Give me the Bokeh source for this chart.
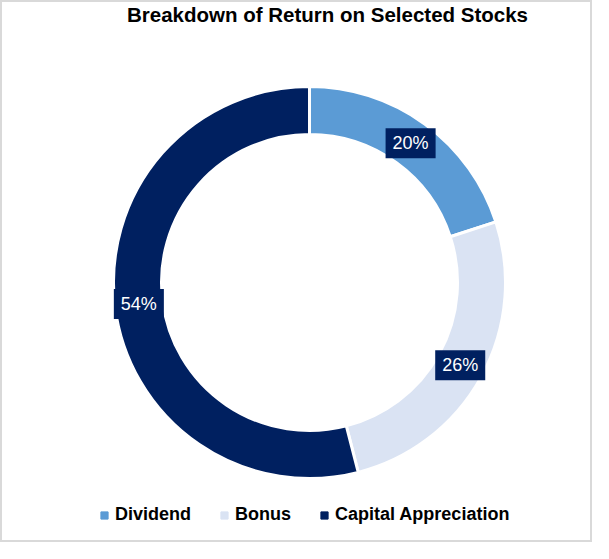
import numpy as np
from bokeh.plotting import figure
from bokeh.models import Range1d, ColumnDataSource, Legend, LegendItem
from bokeh.core.properties import value
from bokeh.embed import file_html
from bokeh.resources import INLINE

title = "Breakdown of Return on Selected Stocks"
categories = ["Dividend", "Bonus", "Capital Appreciation"]
shares = [20, 26, 54]
colors = ["#5B9BD5", "#DAE3F3", "#002060"]
label_bg = "#002060"

FONT = "Liberation Sans"

W, H = 592, 542
cx, cy = 309, 260
r_in, r_out = 148, 196

frac = np.array(shares) / sum(shares)
cum = np.concatenate([[0], np.cumsum(frac)])
start = np.pi / 2 - cum[:-1] * 2 * np.pi
end = np.pi / 2 - cum[1:] * 2 * np.pi
mid = (start + end) / 2
r_lab = (r_in + r_out) / 2

src = ColumnDataSource(dict(
    cat=categories, val=shares, color=colors, start=start, end=end,
    lx=cx + r_lab * np.cos(mid), ly=cy + r_lab * np.sin(mid),
    label=[f"{v}%" for v in shares],
))

p = figure(width=W, height=H, x_range=Range1d(0, W), y_range=Range1d(0, H),
           output_backend="svg", toolbar_location=None, min_border=0)
p.axis.visible = False
p.grid.visible = False
p.outline_line_color = "#d9d9d9"
p.outline_line_width = 3
p.background_fill_color = "white"
p.border_fill_color = "white"

p.annular_wedge(x=cx, y=cy, inner_radius=r_in, outer_radius=r_out,
                start_angle="start", end_angle="end", direction="clock",
                fill_color="color", line_color="white", line_width=3, source=src)

p.text(x="lx", y="ly", text="label", source=src, text_align="center",
       text_baseline="middle", text_color="white", text_font=value(FONT),
       text_font_size="18px", background_fill_color=label_bg,
       padding=dict(left=7, right=7, top=5, bottom=5))

p.text(x=[W / 2 + 31], y=[528], text=[title], text_align="center",
       text_baseline="middle", text_color="black", text_font=value(FONT),
       text_font_size="20.5px", text_font_style="bold")

items = []
for c, col in zip(categories, colors):
    r = p.scatter(x=[-1000], y=[-1000], marker="square", size=7,
                  fill_color=col, line_color=col)
    items.append(LegendItem(label=c, renderers=[r]))

legend = Legend(items=items, orientation="horizontal", location=(95, 17),
                glyph_width=18, glyph_height=18, label_standoff=2, spacing=24,
                padding=0, margin=0, border_line_alpha=0, background_fill_alpha=0,
                label_text_font=FONT, label_text_font_size="18px",
                label_text_font_style="bold", label_text_color="black")
p.add_layout(legend, "center")

open("out.html", "w").write(file_html(p, INLINE))
